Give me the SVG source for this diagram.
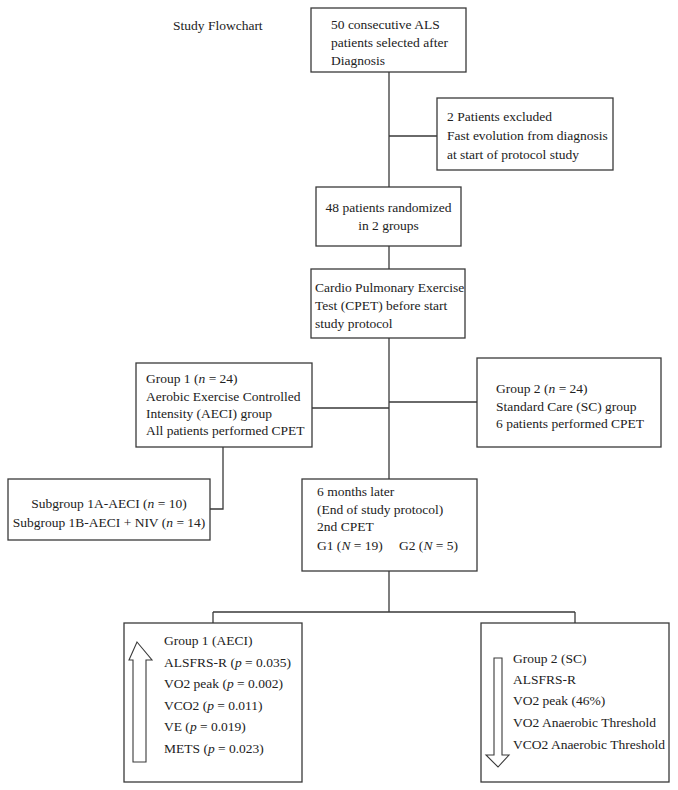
<svg xmlns="http://www.w3.org/2000/svg" width="678" height="790" viewBox="0 0 678 790">
<style>
.box{fill:#fff;stroke:#3a3a3a;stroke-width:1.3}
.ln{fill:none;stroke:#3a3a3a;stroke-width:1.3}
.arr{fill:#fff;stroke:#3a3a3a;stroke-width:1.1}
text{font-family:"Liberation Serif","Times New Roman",serif;font-size:13.5px;fill:#222}
.c{text-anchor:middle}
.i{font-style:italic}
</style>
<rect width="678" height="790" fill="#fff"/>
<g id="connectors">
<path class="ln" d="M389 72V269M389 136H437M389 246V269M389 338V479M312 408H389M389 402H477M223 447V509H210M389 571V612M213 612H575M213 612V623M575 612V623"/>
</g>
<g id="title"><text x="173" y="30">Study Flowchart</text></g>
<g id="n1">
<rect class="box" x="311" y="8" width="155" height="64"/>
<text x="331" y="29">50 consecutive ALS</text>
<text x="331" y="47">patients selected after</text>
<text x="331" y="65">Diagnosis</text>
</g>
<g id="n2">
<rect class="box" x="437" y="98" width="176" height="72"/>
<text x="447" y="121">2 Patients excluded</text>
<text x="447" y="140">Fast evolution from diagnosis</text>
<text x="447" y="159">at start of protocol study</text>
</g>
<g id="n3">
<rect class="box" x="316" y="187" width="145" height="59"/>
<text class="c" x="388.5" y="212">48 patients randomized</text>
<text class="c" x="388.5" y="230">in 2 groups</text>
</g>
<g id="n4">
<rect class="box" x="311" y="269" width="154" height="69"/>
<text x="315" y="292">Cardio Pulmonary Exercise</text>
<text x="315" y="310">Test (CPET) before start</text>
<text x="315" y="328">study protocol</text>
</g>
<g id="n5">
<rect class="box" x="136" y="363" width="176" height="84"/>
<text x="146" y="383">Group 1 (<tspan class="i">n</tspan> = 24)</text>
<text x="146" y="401">Aerobic Exercise Controlled</text>
<text x="146" y="418">Intensity (AECI) group</text>
<text x="146" y="435">All patients performed CPET</text>
</g>
<g id="n6">
<rect class="box" x="477" y="358" width="184" height="89"/>
<text x="496" y="393">Group 2 (<tspan class="i">n</tspan> = 24)</text>
<text x="496" y="411">Standard Care (SC) group</text>
<text x="496" y="428">6 patients performed CPET</text>
</g>
<g id="n7">
<rect class="box" x="8" y="479" width="202" height="61"/>
<text class="c" x="109" y="508">Subgroup 1A-AECI (<tspan class="i">n</tspan> = 10)</text>
<text class="c" x="109" y="527">Subgroup 1B-AECI + NIV (<tspan class="i">n</tspan> = 14)</text>
</g>
<g id="n8">
<rect class="box" x="302" y="479" width="175" height="92"/>
<text x="317" y="496">6 months later</text>
<text x="317" y="514">(End of study protocol)</text>
<text x="317" y="531">2nd CPET</text>
<text x="317" y="550">G1 (<tspan class="i">N</tspan> = 19)</text>
<text x="399" y="550">G2 (<tspan class="i">N</tspan> = 5)</text>
</g>
<g id="n9">
<rect class="box" x="124" y="623" width="178" height="159"/>
<polygon class="arr" points="137,642 152,660 146,660 146,762 133,762 133,660 129,660"/>
<text x="164" y="645">Group 1 (AECI)</text>
<text x="164" y="667">ALSFRS-R (<tspan class="i">p</tspan> = 0.035)</text>
<text x="164" y="688">VO2 peak (<tspan class="i">p</tspan> = 0.002)</text>
<text x="164" y="710">VCO2 (<tspan class="i">p</tspan> = 0.011)</text>
<text x="164" y="731">VE (<tspan class="i">p</tspan> = 0.019)</text>
<text x="164" y="753">METS (<tspan class="i">p</tspan> = 0.023)</text>
</g>
<g id="n10">
<rect class="box" x="481" y="623" width="188" height="159"/>
<polygon class="arr" points="494,658 502,658 502,755 509,755 498,767 486,755 494,755"/>
<text x="513" y="663">Group 2 (SC)</text>
<text x="513" y="684">ALSFRS-R</text>
<text x="513" y="705">VO2 peak (46%)</text>
<text x="513" y="727">VO2 Anaerobic Threshold</text>
<text x="513" y="749">VCO2 Anaerobic Threshold</text>
</g>
</svg>
